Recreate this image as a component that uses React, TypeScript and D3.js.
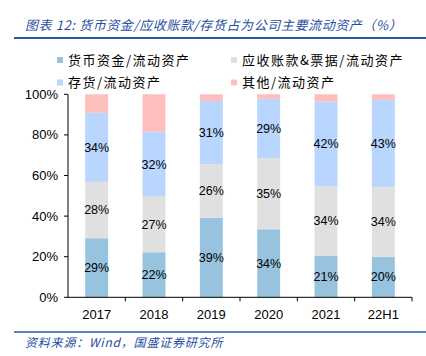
import React from "react";
import * as d3 from "d3";

const categories = ["2017", "2018", "2019", "2020", "2021", "22H1"];
const cash = [29.1, 22.2, 39.2, 33.5, 20.5, 20.0];
const receivables = [27.8, 27.4, 26.4, 35.1, 34.2, 34.4];
const inventory = [34.0, 32.0, 31.1, 29.2, 41.7, 42.9];
const other = [9.1, 18.4, 3.3, 2.2, 3.6, 2.7];
const seriesNames = ["货币资金/流动资产", "应收账款&票据/流动资产", "存货/流动资产", "其他/流动资产"];
const seriesColors = ["#97C3DE", "#E0E0E0", "#B8D6FE", "#FEBEBE"];
const yTicks = [0, 20, 40, 60, 80, 100];

const W = 426, H = 356;
const M = { left: 68, right: 412, top: 94.3, bottom: 297.3 };

export default function App() {
  const x = d3.scaleBand().domain(categories).range([M.left, M.right]).paddingInner(0.6).paddingOuter(0.3);
  const xb = d3.scaleBand().domain(categories).range([M.left, M.right]);
  const y = d3.scaleLinear().domain([0, 100]).range([M.bottom, M.top]);
  const table = categories.map((c, i) => ({ cat: c, s0: cash[i], s1: receivables[i], s2: inventory[i], s3: other[i] }));
  const stack = d3.stack<any>().keys(["s0", "s1", "s2", "s3"])(table);
  const font = "Arial, 'Liberation Sans', 'Noto Sans CJK SC', sans-serif";
  const cjk = "'Noto Sans CJK SC', sans-serif";
  const legendPos = [[57, 60], [231, 60], [57, 82.5], [231, 82.5]];
  return (
    <svg width={W} height={H} style={{ position: "absolute", left: 0, top: 0, background: "#fff" }}>
      <text x={25} y={30} fontFamily={cjk} fontSize={13} fontStyle="italic" fill="#1F4E9F" letterSpacing={0.6}>
        图表 12:  货币资金/应收账款/存货占为公司主要流动资产（%）
      </text>
      <line x1={14} x2={426} y1={38} y2={38} stroke="#1F5BAA" strokeWidth={2} />
      {seriesNames.map((n, i) => (
        <g key={n}>
          <rect x={legendPos[i][0]} y={legendPos[i][1] - 3} width={6} height={6} fill={seriesColors[i]} />
          <text x={legendPos[i][0] + 11} y={legendPos[i][1]} dy="0.35em" fontFamily={cjk} fontSize={13} fill="#000" letterSpacing={1.5}>{n}</text>
        </g>
      ))}
      {stack.map((layer, si) => (
        <g key={si}>
          {layer.map((d: any, ci) => (
            <rect key={ci} x={x(categories[ci])} width={x.bandwidth()} y={y(d[1])} height={y(d[0]) - y(d[1])} fill={seriesColors[si]} />
          ))}
        </g>
      ))}
      {stack.slice(0, 3).map((layer, si) => (
        <g key={"l" + si}>
          {layer.map((d: any, ci) => (
            <text key={ci} x={x(categories[ci])! + x.bandwidth() / 2} y={(y(d[0]) + y(d[1])) / 2} dy="0.35em" textAnchor="middle" fontFamily={font} fontSize={12.5} fill="#000">
              {Math.round(d[1] - d[0]) + "%"}
            </text>
          ))}
        </g>
      ))}
      <line x1={M.left} x2={M.left} y1={y(100)} y2={y(0)} stroke="#000" strokeWidth={1} />
      <line x1={M.left} x2={M.right} y1={y(0)} y2={y(0)} stroke="#000" strokeWidth={1} />
      {yTicks.map(t => (
        <g key={t}>
          <line x1={M.left - 4} x2={M.left} y1={y(t)} y2={y(t)} stroke="#000" />
          <text x={M.left - 10} y={y(t)} dy="0.35em" textAnchor="end" fontFamily={font} fontSize={13} fill="#000">{t + "%"}</text>
        </g>
      ))}
      {categories.map((c, i) => (
        <g key={c}>
          <line x1={xb(c)! + xb.bandwidth()} x2={xb(c)! + xb.bandwidth()} y1={y(0)} y2={y(0) + 4} stroke="#000" />
          <text x={xb(c)! + xb.bandwidth() / 2} y={314} dy="0.35em" textAnchor="middle" fontFamily={font} fontSize={13} fill="#000">{c}</text>
        </g>
      ))}
      <line x1={14} x2={426} y1={332} y2={332} stroke="#1F5BAA" strokeWidth={1.5} />
      <text x={25} y={343} dy="0.35em" fontFamily={cjk} fontSize={12} fontStyle="italic" fill="#1F4E9F" letterSpacing={0.8}>资料来源：Wind，国盛证券研究所</text>
    </svg>
  );
}
